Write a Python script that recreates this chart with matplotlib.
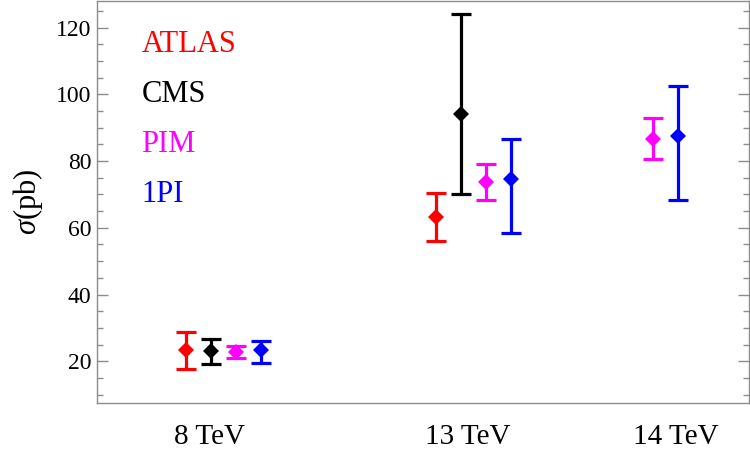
import matplotlib
matplotlib.use("Agg")
import matplotlib.pyplot as plt
from matplotlib.ticker import MultipleLocator

# ---- data ----
energies = ["8 TeV", "13 TeV", "14 TeV"]
series = ["ATLAS", "CMS", "PIM", "1PI"]
colors = ["#ff0000", "#000000", "#ff00ff", "#0000ff"]

# central values, lower and upper ends of the error bars (pb); None = no point
atlas_val = [23.3, 63.2, None]
atlas_lo = [17.8, 56.1, None]
atlas_hi = [28.9, 70.3, None]

cms_val = [23.0, 94.0, None]
cms_lo = [19.1, 70.1, None]
cms_hi = [26.6, 124.1, None]

pim_val = [22.8, 73.7, 86.6]
pim_lo = [20.9, 68.4, 80.7]
pim_hi = [24.5, 79.0, 92.9]

opi_val = [23.3, 74.6, 87.4]
opi_lo = [19.5, 58.5, 68.4]
opi_hi = [26.2, 86.6, 102.4]

# ---- layout (horizontal positions, arbitrary units) ----
x_pos = {
    "ATLAS": [3.55, 13.55, None],
    "CMS": [4.55, 14.55, None],
    "PIM": [5.56, 15.56, 22.23],
    "1PI": [6.55, 16.56, 23.23],
}
label_pos = [4.52, 14.82, 23.16]

data = {
    "ATLAS": (atlas_val, atlas_lo, atlas_hi),
    "CMS": (cms_val, cms_lo, cms_hi),
    "PIM": (pim_val, pim_lo, pim_hi),
    "1PI": (opi_val, opi_lo, opi_hi),
}

serif = ["Liberation Serif", "DejaVu Serif"]
plt.rcParams["font.family"] = serif
plt.rcParams["mathtext.fontset"] = "custom"
plt.rcParams["mathtext.it"] = "Liberation Serif:italic"
plt.rcParams["mathtext.rm"] = "Liberation Serif"

fig = plt.figure(figsize=(7.5, 4.59), dpi=100)
ax = fig.add_axes([97 / 750, 1 - 403 / 459, 652 / 750, 402.5 / 459])

for name, col in zip(series, colors):
    vals, lo, hi = data[name]
    for xp, v, l, h in zip(x_pos[name], vals, lo, hi):
        if v is None:
            continue
        ax.errorbar([xp], [v], yerr=[[v - l], [h - v]], fmt="none", ecolor=col,
                    elinewidth=2.3, capsize=7.5, capthick=2.3)
        ax.plot([xp], [v], "D", color=col, ms=8, mew=0, zorder=3)

ax.set_xlim(0, 26.08)
ax.set_ylim(7.5, 128.1)

gray = "#8c8c8c"
for sp in ax.spines.values():
    sp.set_color(gray)
    sp.set_linewidth(1.0)

ax.set_xticks(label_pos)
ax.set_xticklabels(energies, fontsize=21)
ax.tick_params(axis="x", length=0, pad=15)

ax.yaxis.set_major_locator(MultipleLocator(20))
ax.yaxis.set_minor_locator(MultipleLocator(5))
ax.set_yticks([20, 40, 60, 80, 100, 120])
ax.tick_params(axis="y", which="major", direction="in", length=8, width=1,
               color=gray, labelsize=17, pad=4, right=True)
ax.tick_params(axis="y", which="minor", direction="in", length=4.5, width=1,
               color=gray, right=True)

ax.set_ylabel(r"$\sigma$(pb)", fontsize=22, labelpad=8)

# legend as coloured text
text_y = [115, 100, 85, 70]
for name, col, ty in zip(series, colors, text_y):
    ax.text(1.78, ty, name, color=col, fontsize=22, ha="left", va="center")

fig.savefig("out.png", dpi=100)
